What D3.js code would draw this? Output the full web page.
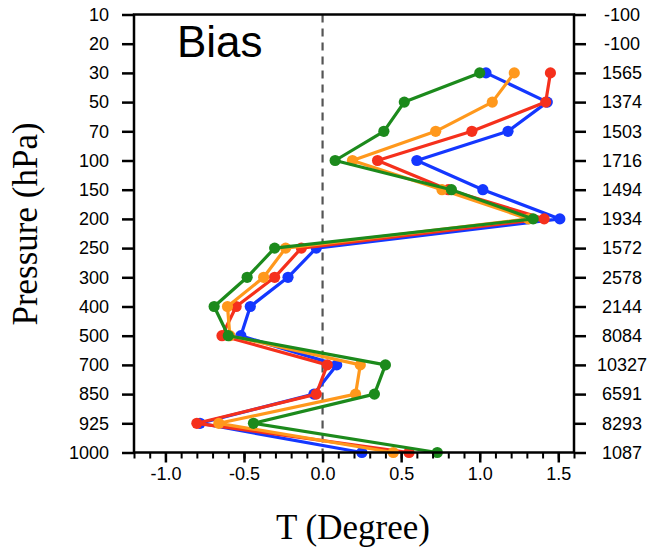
<!DOCTYPE html>
<html>
<head>
<meta charset="utf-8">
<script src="https://cdn.jsdelivr.net/npm/d3@7"></script>
<style>
  html, body { margin: 0; padding: 0; background: #fff; }
  svg { display: block; }
</style>
</head>
<body>
<svg id="chart" width="652" height="550"></svg>
<script>
// Pressure levels (hPa), top to bottom
const levels = [10, 20, 30, 50, 70, 100, 150, 200, 250, 300, 400, 500, 700, 850, 925, 1000];
// Observation counts shown on the right axis, one per level
const counts = ["-100", "-100", "1565", "1374", "1503", "1716", "1494", "1934",
                "1572", "2578", "2144", "8084", "10327", "6591", "8293", "1087"];
// Levels that carry bias values (30 hPa down to 1000 hPa)
const dataLevels = [30, 50, 70, 100, 150, 200, 250, 300, 400, 500, 700, 850, 925, 1000];
// Temperature bias per experiment (degree)
const blueBias   = [1.04, 1.43, 1.18, 0.60, 1.02, 1.51, -0.04, -0.22, -0.46, -0.52, 0.09, -0.055, -0.78, 0.25];
const redBias    = [1.45, 1.42, 0.95, 0.35, 0.80, 1.41, -0.135, -0.305, -0.55, -0.64, 0.03, -0.04, -0.80, 0.55];
const orangeBias = [1.22, 1.08, 0.72, 0.19, 0.76, 1.31, -0.235, -0.375, -0.605, -0.59, 0.24, 0.21, -0.66, 0.45];
const greenBias  = [1.00, 0.52, 0.39, 0.08, 0.82, 1.34, -0.305, -0.48, -0.69, -0.60, 0.40, 0.33, -0.44, 0.73];
// X axis ticks
const xMajor = [-1.0, -0.5, 0.0, 0.5, 1.0, 1.5];
const xMinor = d3.range(-12, 17).map(d => d / 10);

const series = [
  { values: blueBias,   color: "#1437ff" },
  { values: redBias,    color: "#f5301c" },
  { values: orangeBias, color: "#ff981c" },
  { values: greenBias,  color: "#1c8a1c" }
];

const svg = d3.select("#chart");
const plotL = 134, plotR = 574, plotT = 14.5, plotB = 452.5;

const x = d3.scaleLinear().domain([-1.2, 1.6]).range([plotL, plotR]);
const y = d3.scalePoint().domain(levels).range([plotT, plotB]);

const sans = "'Liberation Sans', Arial, Helvetica, sans-serif";
const serif = "'Liberation Serif', 'Times New Roman', serif";

// Zero reference line
svg.append("line")
  .attr("x1", x(0)).attr("x2", x(0))
  .attr("y1", plotT).attr("y2", plotB)
  .attr("stroke", "#555").attr("stroke-width", 2.2)
  .attr("stroke-dasharray", "8,6");

// Profiles
const line = d3.line().x(d => x(d.v)).y(d => y(d.p));
series.forEach(s => {
  const pts = dataLevels.map((p, i) => ({ p: p, v: s.values[i] }));
  const g = svg.append("g");
  g.append("path").datum(pts)
    .attr("d", line)
    .attr("fill", "none")
    .attr("stroke", s.color)
    .attr("stroke-width", 3.2)
    .attr("stroke-linejoin", "round");
  g.selectAll("circle").data(pts).join("circle")
    .attr("cx", d => x(d.v)).attr("cy", d => y(d.p))
    .attr("r", 5.6)
    .attr("fill", s.color);
});

// Axes
const axisStroke = 2.5;
const fmtX = d => d3.format(".1f")(d).replace("\u2212", "-");
const bottomAxis = d3.axisBottom(x).tickValues(xMajor).tickSize(10).tickFormat(fmtX);
const gb = svg.append("g").attr("transform", `translate(0,${plotB})`).call(bottomAxis);
gb.selectAll(".tick line").attr("stroke", "#000").attr("stroke-width", axisStroke);
gb.selectAll(".tick text").attr("y", 27).attr("dy", 0)
  .attr("font-family", sans).attr("font-size", 18).attr("fill", "#000");
gb.select(".domain").remove();

const minorAxis = d3.axisBottom(x).tickValues(xMinor).tickSize(6).tickFormat("");
const gm = svg.append("g").attr("transform", `translate(0,${plotB})`).call(minorAxis);
gm.selectAll(".tick line").attr("stroke", "#000").attr("stroke-width", 2);
gm.select(".domain").remove();

const leftAxis = d3.axisLeft(y).tickSize(12).tickPadding(13);
const gl = svg.append("g").attr("transform", `translate(${plotL},0)`).call(leftAxis);
gl.selectAll(".tick line").attr("stroke", "#000").attr("stroke-width", axisStroke);
gl.selectAll(".tick text").attr("font-family", sans).attr("font-size", 18).attr("fill", "#000");
gl.select(".domain").remove();

const rightAxis = d3.axisRight(y).tickSize(12).tickFormat((d, i) => counts[i]);
const gr = svg.append("g").attr("transform", `translate(${plotR},0)`).call(rightAxis);
gr.selectAll(".tick line").attr("stroke", "#000").attr("stroke-width", axisStroke);
gr.selectAll(".tick text").attr("x", 48).attr("text-anchor", "middle")
  .attr("font-family", sans).attr("font-size", 18).attr("fill", "#000");
gr.select(".domain").remove();

// Frame
svg.append("rect")
  .attr("x", plotL).attr("y", plotT)
  .attr("width", plotR - plotL).attr("height", plotB - plotT)
  .attr("fill", "none").attr("stroke", "#000").attr("stroke-width", axisStroke);

// Titles
svg.append("text")
  .attr("x", 177).attr("y", 57)
  .attr("font-family", sans).attr("font-size", 44).attr("fill", "#000")
  .text("Bias");

svg.append("text")
  .attr("x", 353).attr("y", 539)
  .attr("text-anchor", "middle")
  .attr("font-family", serif).attr("font-size", 35).attr("fill", "#000")
  .text("T (Degree)");

svg.append("text")
  .attr("transform", "translate(37,224) rotate(-90)")
  .attr("text-anchor", "middle")
  .attr("font-family", serif).attr("font-size", 35).attr("fill", "#000")
  .text("Pressure (hPa)");
</script>
</body>
</html>
